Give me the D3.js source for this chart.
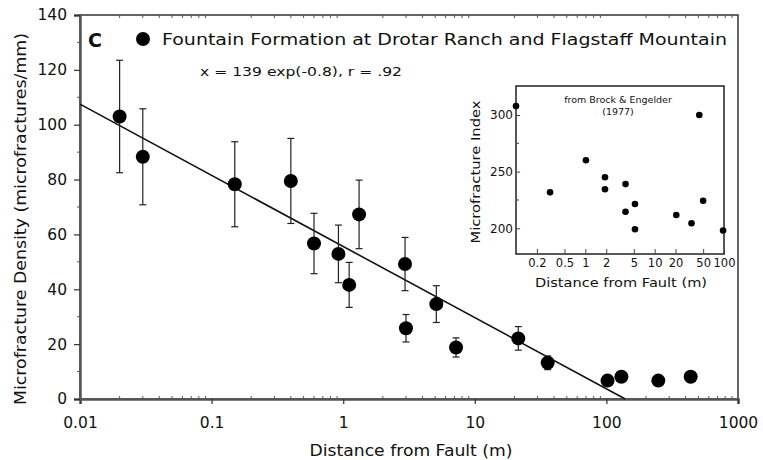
<!DOCTYPE html>
<html>
<head>
<meta charset="utf-8">
<script src="https://cdn.jsdelivr.net/npm/d3@7"></script>
<style>
  body { margin: 0; background: #fff; }
  text { font-family: "DejaVu Sans", "Liberation Sans", sans-serif; fill: #111; }
</style>
</head>
<body>
<svg id="chart" width="763" height="460"></svg>
<script>
// main panel: distance (m), density (microfractures/mm), +/- error
const distance = [0.02, 0.03, 0.15, 0.4, 0.6, 0.92, 1.11, 1.32, 2.95, 3.0, 5.1, 7.2, 21.4, 35.8, 102, 130, 248, 437];
const density  = [103, 88.3, 78.3, 79.5, 56.7, 52.9, 41.6, 67.3, 49.2, 25.8, 34.6, 18.8, 22.1, 13.2, 6.7, 8.1, 6.7, 8.1];
const errors   = [20.5, 17.5, 15.5, 15.5, 11, 10.5, 8.2, 12.5, 9.7, 5, 6.7, 3.5, 4.3, 2.5, 0, 0, 0, 0];

// regression line end points
const fitX = [0.01, 139];
const fitY = [107.5, 0];

const xTicks = [0.01, 0.1, 1, 10, 100, 1000];
const xTickLabels = ["0.01", "0.1", "1", "10", "100", "1000"];
const yTicks = [0, 20, 40, 60, 80, 100, 120, 140];

// inset: Brock & Engelder (1977)
const insetDist  = [0.1, 0.31, 1.02, 1.92, 1.92, 3.8, 3.8, 5.2, 5.2, 20.5, 34, 44, 50, 97];
const insetIndex = [308, 231.7, 260, 245, 234.4, 239, 214.6, 221.4, 199.1, 211.7, 204.4, 300, 224.3, 198];
const insetXTicks = [0.2, 0.5, 1, 2, 5, 10, 20, 50, 100];
const insetXLabels = ["0.2", "0.5", "1", "2", "5", "10", "20", "50", "100"];
const insetYTicks = [200, 250, 300];

const svg = d3.select("#chart");

// ---------- main plot ----------
const m = { left: 80, right: 738, top: 15, bottom: 399 };
const x = d3.scaleLog().domain([0.01, 1000]).range([m.left, m.right]);
const y = d3.scaleLinear().domain([0, 140]).range([m.bottom, m.top]);

const axisColor = "#555";

// frame
svg.append("rect")
  .attr("x", m.left).attr("y", m.top)
  .attr("width", m.right - m.left).attr("height", m.bottom - m.top)
  .attr("fill", "none").attr("stroke", "#333").attr("stroke-width", 1.5);

// minor x ticks (inside)
const minorX = [];
for (let e = -2; e < 3; e++) for (let k = 2; k < 10; k++) minorX.push(k * Math.pow(10, e));
svg.append("g").selectAll("line").data(minorX).join("line")
  .attr("x1", d => x(d)).attr("x2", d => x(d))
  .attr("y1", m.bottom).attr("y2", m.bottom - 3)
  .attr("stroke", axisColor).attr("stroke-width", 1);
svg.append("g").selectAll("line").data(minorX).join("line")
  .attr("x1", d => x(d)).attr("x2", d => x(d))
  .attr("y1", m.top).attr("y2", m.top + 3)
  .attr("stroke", axisColor).attr("stroke-width", 1);

// x axis
const xAxis = svg.append("g")
  .attr("transform", `translate(0,${m.bottom})`)
  .call(d3.axisBottom(x).tickValues(xTicks).tickFormat((d, i) => xTickLabels[i]).tickSize(5).tickPadding(13));
xAxis.select(".domain").attr("stroke", axisColor).attr("stroke-width", 2.5);
xAxis.selectAll(".tick line").attr("stroke", "#333").attr("stroke-width", 1.2);
xAxis.selectAll(".tick text").attr("font-size", 15.5).attr("font-family", "DejaVu Sans");

// y minor ticks
const minorY = d3.range(10, 140, 20);
svg.append("g").selectAll("line").data(minorY).join("line")
  .attr("x1", m.left - 3).attr("x2", m.left)
  .attr("y1", d => y(d)).attr("y2", d => y(d))
  .attr("stroke", axisColor).attr("stroke-width", 1);

const yAxis = svg.append("g")
  .attr("transform", `translate(${m.left},0)`)
  .call(d3.axisLeft(y).tickValues(yTicks).tickSize(6).tickPadding(7));
yAxis.select(".domain").attr("stroke", axisColor).attr("stroke-width", 2.5);
yAxis.selectAll(".tick line").attr("stroke", "#333").attr("stroke-width", 1.2);
yAxis.selectAll(".tick text").attr("font-size", 15.5).attr("font-family", "DejaVu Sans");

// axis titles
svg.append("text")
  .attr("x", 411).attr("y", 456)
  .attr("text-anchor", "middle").attr("font-size", 15.5)
  .attr("textLength", 203).attr("lengthAdjust", "spacingAndGlyphs")
  .text("Distance from Fault (m)");
svg.append("text")
  .attr("transform", `translate(26,219) rotate(-90)`)
  .attr("text-anchor", "middle").attr("font-size", 15)
  .attr("textLength", 372).attr("lengthAdjust", "spacingAndGlyphs")
  .text("Microfracture Density (microfractures/mm)");

// regression line
svg.append("line")
  .attr("x1", x(fitX[0])).attr("y1", y(fitY[0]))
  .attr("x2", x(fitX[1])).attr("y2", y(fitY[1]))
  .attr("stroke", "#111").attr("stroke-width", 1.6);

// error bars
const pts = distance.map((d, i) => ({ d, v: density[i], e: errors[i] }));
const eb = svg.append("g").selectAll("g").data(pts.filter(p => p.e > 0)).join("g");
eb.append("line")
  .attr("x1", p => x(p.d)).attr("x2", p => x(p.d))
  .attr("y1", p => y(p.v + p.e)).attr("y2", p => y(p.v - p.e))
  .attr("stroke", "#222").attr("stroke-width", 1.2);
eb.selectAll(".cap").data(p => [[p.d, p.v + p.e], [p.d, p.v - p.e]]).join("line")
  .attr("x1", c => x(c[0]) - 3.5).attr("x2", c => x(c[0]) + 3.5)
  .attr("y1", c => y(c[1])).attr("y2", c => y(c[1]))
  .attr("stroke", "#222").attr("stroke-width", 1.2);

// points
svg.append("g").selectAll("circle").data(pts).join("circle")
  .attr("cx", p => x(p.d)).attr("cy", p => y(p.v)).attr("r", 7)
  .attr("fill", "#000");

// legend and labels
svg.append("text").attr("x", 88).attr("y", 47)
  .attr("font-size", 19).attr("font-weight", "bold").attr("font-family", "Liberation Sans, Arial, sans-serif")
  .text("C");
svg.append("circle").attr("cx", 143).attr("cy", 39).attr("r", 7).attr("fill", "#000");
svg.append("text").attr("x", 162).attr("y", 45)
  .attr("font-size", 16.5).attr("textLength", 565).attr("lengthAdjust", "spacingAndGlyphs")
  .attr("font-family", "Liberation Sans, Arial, sans-serif")
  .text("Fountain Formation at Drotar Ranch and Flagstaff Mountain");
svg.append("text").attr("x", 200).attr("y", 76)
  .attr("font-size", 12.5).attr("textLength", 202).attr("lengthAdjust", "spacingAndGlyphs")
  .attr("font-family", "Liberation Sans, Arial, sans-serif")
  .text("x = 139 exp(-0.8), r = .92");

// ---------- inset ----------
const im = { left: 516, right: 724, top: 86, bottom: 254 };
const ix = d3.scaleLog().domain([0.1, 100]).range([im.left, im.right]);
const iy = d3.scaleLinear().domain([177.3, 325.6]).range([im.bottom, im.top]);

svg.append("rect")
  .attr("x", im.left).attr("y", im.top)
  .attr("width", im.right - im.left).attr("height", im.bottom - im.top)
  .attr("fill", "#fff").attr("stroke", "#222").attr("stroke-width", 1.5);

const ixAxis = svg.append("g")
  .attr("transform", `translate(0,${im.bottom})`)
  .call(d3.axisBottom(ix).tickValues(insetXTicks).tickFormat((d, i) => insetXLabels[i]).tickSize(-5).tickPadding(5));
ixAxis.select(".domain").remove();
ixAxis.selectAll(".tick line").attr("stroke", "#444");
ixAxis.selectAll(".tick text").attr("font-size", 11.5).attr("font-family", "DejaVu Sans");

const iyAxis = svg.append("g")
  .attr("transform", `translate(${im.left},0)`)
  .call(d3.axisLeft(iy).tickValues(insetYTicks).tickSize(-4).tickPadding(3));
iyAxis.select(".domain").remove();
iyAxis.selectAll(".tick line").attr("stroke", "#444");
iyAxis.selectAll(".tick text").attr("font-size", 12).attr("font-family", "DejaVu Sans");

svg.append("g").selectAll("line").data([225, 275]).join("line")
  .attr("x1", im.left).attr("x2", im.left + 3)
  .attr("y1", d => iy(d)).attr("y2", d => iy(d))
  .attr("stroke", "#444");

svg.append("text").attr("x", 621).attr("y", 287)
  .attr("text-anchor", "middle").attr("font-size", 13)
  .attr("textLength", 172).attr("lengthAdjust", "spacingAndGlyphs")
  .text("Distance from Fault (m)");
svg.append("text")
  .attr("transform", `translate(480,172) rotate(-90)`)
  .attr("text-anchor", "middle").attr("font-size", 13)
  .attr("textLength", 143).attr("lengthAdjust", "spacingAndGlyphs")
  .text("Microfracture Index");
svg.append("text").attr("x", 618).attr("y", 103)
  .attr("text-anchor", "middle").attr("font-size", 9.5)
  .text("from Brock & Engelder");
svg.append("text").attr("x", 618).attr("y", 115)
  .attr("text-anchor", "middle").attr("font-size", 9.5)
  .text("(1977)");

svg.append("g").selectAll("circle").data(insetDist.map((d, i) => [d, insetIndex[i]])).join("circle")
  .attr("cx", d => ix(d[0])).attr("cy", d => iy(d[1])).attr("r", 3.3)
  .attr("fill", "#000");
</script>
</body>
</html>
